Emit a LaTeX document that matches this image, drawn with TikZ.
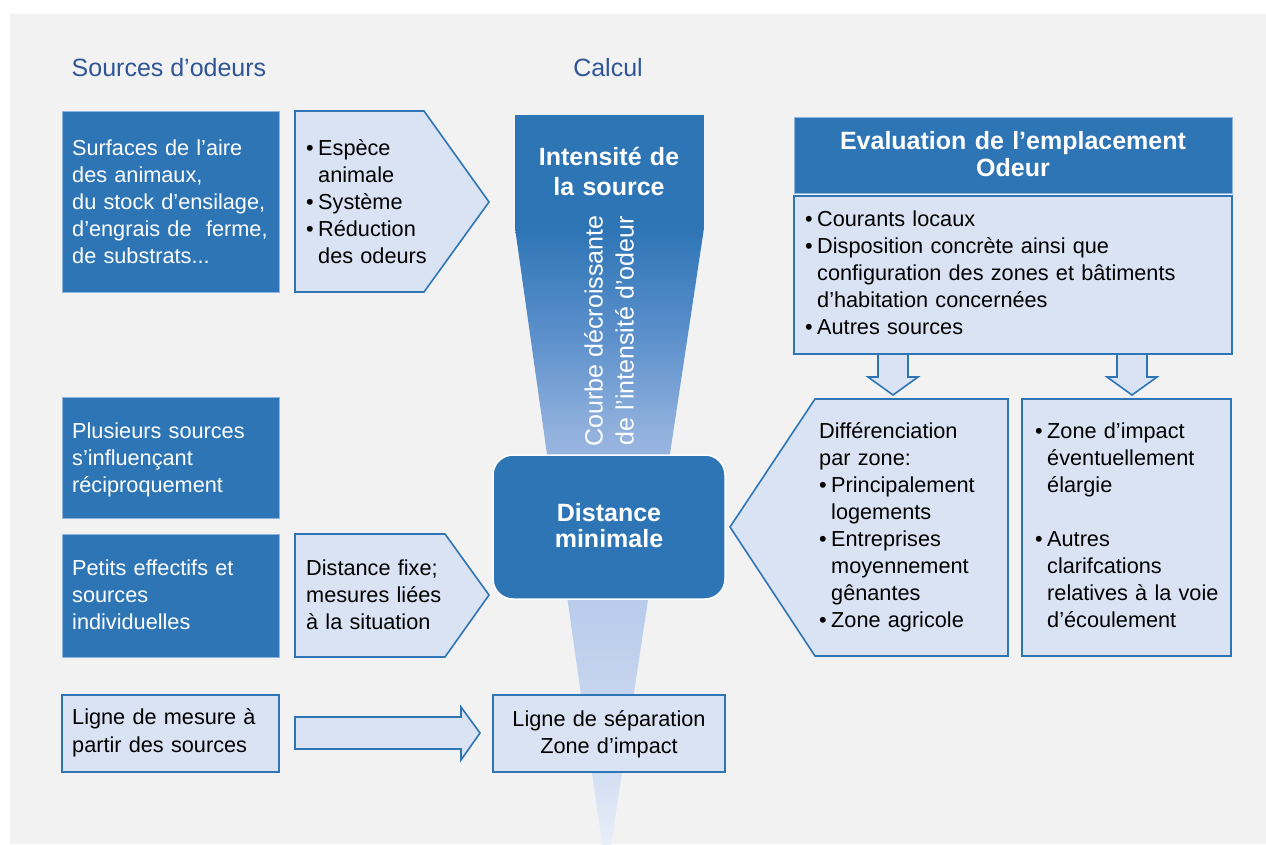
\documentclass[tikz,border=0pt]{standalone}
\usepackage{fontspec}
\setmainfont{Liberation Sans}
\definecolor{dblue}{HTML}{2E75B6}
\definecolor{dedge}{HTML}{8FB4DE}
\definecolor{lfill}{HTML}{DAE3F3}
\definecolor{bord}{HTML}{2E75B6}
\definecolor{ttl}{HTML}{2F5597}
\definecolor{bgc}{HTML}{F2F2F2}
\definecolor{fa}{HTML}{2E75B6}
\definecolor{fb}{HTML}{5A8FCB}
\definecolor{fc}{HTML}{92B1DD}
\definecolor{fd}{HTML}{B8CBEB}
\definecolor{fe}{HTML}{D2DEF2}
\definecolor{ff}{HTML}{F2F5FB}
\pgfdeclareverticalshading{funnelshade}{100bp}{color(0bp)=(ff); color(25bp)=(ff); color(32.75bp)=(fe); color(46.1bp)=(fd); color(59.1bp)=(fc); color(66.85bp)=(fb); color(75bp)=(fa); color(100bp)=(fa)}
\newcommand\bul{\makebox[12pt][l]{•}}
\newcommand\ind{\hspace*{12pt}}
\begin{document}
\begin{tikzpicture}[x=1pt,y=-1pt,
  body/.style={font=\fontsize{21.7}{27}\selectfont, inner sep=0pt, text width=#1, align=left, anchor=base west},
  bodyc/.style={font=\fontsize{21.7}{27}\selectfont, inner sep=0pt, text width=#1, align=center, anchor=base},
  boldc/.style={font=\bfseries\fontsize{25}{27}\selectfont, text=white, inner sep=0pt, text width=#1, align=center, anchor=base},
  ttlfont/.style={font=\fontsize{25}{30}\selectfont, text=ttl, inner sep=0pt},
  darkbox/.style={fill=dblue, draw=dedge, line width=0.8pt},
  lightbox/.style={fill=lfill, draw=bord, line width=1.6pt}]
\useasboundingbox (0,0) rectangle (1266,844);
\clip (0,0) rectangle (1266,844);
\fill[white] (0,0) rectangle (1266,844);
\fill[bgc] (10,14) rectangle (1266,844);

% titles
\node[ttlfont, anchor=base west] (hsrc) at (71.5,76) {Sources d’odeurs};
\node[ttlfont, anchor=base] (hcalc) at (608,76) {Calcul};

% funnel
\path[shading=funnelshade] (515,228) -- (704,228) -- (607,872) -- (606,872) -- cycle;
\fill[dblue] (515,115) rectangle (704,229);
\node[boldc=185, font=\bfseries\fontsize{25}{30}\selectfont] (inten) at (609,165.7) {Intensité de\\la source};
\node[font=\fontsize{25}{31}\selectfont, text=white, align=center, inner sep=0pt, rotate=90] (curve) at (609,331) {Courbe décroissante\\de l’intensité d’odeur};

% source 1
\path[darkbox] (62,111) rectangle (279,292);
\node[body=203, text=white] (src1) at (72,155) {Surfaces de l’aire\\des animaux,\\du stock d’ensilage,\\d’engrais de~ ferme,\\de substrats...};
\path[lightbox] (295,111) -- (424,111) -- (489,202) -- (424,292) -- (295,292) -- cycle;
\node[body=170] (fac) at (306,155) {\bul Espèce\\\ind animale\\\bul Système\\\bul Réduction\\\ind des odeurs};

% distance minimale
\path[fill=dblue, draw=white, line width=1.5pt, rounded corners=20pt] (493,455) rectangle (725,599);
\node[boldc=220, font=\bfseries\fontsize{25}{26}\selectfont] (dmin) at (609,521.7) {Distance\\minimale};

% ligne de separation
\path[lightbox] (493,695) rectangle (725,772);
\node[bodyc=225] (sep) at (609,726) {Ligne de séparation\\Zone d’impact};

% left column
\path[darkbox] (62,397) rectangle (279,518);
\node[body=203, text=white] (multi) at (72,438) {Plusieurs sources\\s’influençant\\réciproquement};
\path[darkbox] (62,534) rectangle (279,657);
\node[body=203, text=white] (small) at (72,575) {Petits effectifs et\\sources\\individuelles};
\path[lightbox] (295,534) -- (445,534) -- (489,595) -- (445,657) -- (295,657) -- cycle;
\node[body=170] (fixe) at (306,575) {Distance fixe;\\mesures liées\\à la situation};
\path[lightbox] (62,695) rectangle (279,772);
\node[body=203, font=\fontsize{21.7}{28}\selectfont] (mesure) at (72,724) {Ligne de mesure à\\partir des sources};
\path[lightbox] (295,717) -- (461,717) -- (461,707) -- (480,733) -- (461,760) -- (461,749) -- (295,749) -- cycle;

% right side
\path[darkbox] (794,117) rectangle (1232,193);
\node[boldc=425] (evh) at (1013,149.3) {Evaluation de l’emplacement\\Odeur};
\path[lightbox] (794,196) rectangle (1232,354);
\node[body=420, font=\fontsize{21.7}{27.2}\selectfont] (evb) at (805,226) {\bul Courants locaux\\\bul Disposition concrète ainsi que\\\ind configuration des zones et bâtiments\\\ind d’habitation concernées\\\bul Autres sources};
\path[lightbox] (878,354) -- (908,354) -- (908,377) -- (918,377) -- (893,395) -- (868,377) -- (878,377) -- cycle;
\path[lightbox] (1117,354) -- (1147,354) -- (1147,377) -- (1157,377) -- (1132,395) -- (1107,377) -- (1117,377) -- cycle;

\path[lightbox] (815,399) -- (1008,399) -- (1008,656) -- (815,656) -- (730,527) -- cycle;
\node[body=185] (diff) at (819,438) {Différenciation\\par zone:\\\bul Principalement\\\ind logements\\\bul Entreprises\\\ind moyennement\\\ind gênantes\\\bul Zone agricole};
\path[lightbox] (1022,399) rectangle (1231,656);
\node[body=192] (impact) at (1035,438) {\bul Zone d’impact\\\ind éventuellement\\\ind élargie\\~\\\bul Autres\\\ind clarifcations\\\ind relatives à la voie\\\ind d’écoulement};
\end{tikzpicture}
\end{document}
